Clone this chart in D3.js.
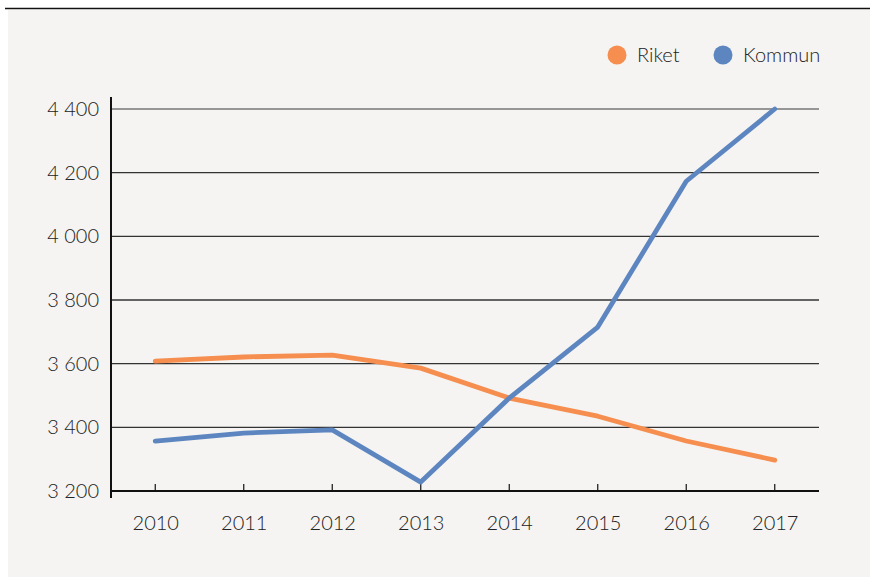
<!DOCTYPE html>
<html>
<head>
<meta charset="utf-8">
<script src="https://cdn.jsdelivr.net/npm/d3@7"></script>
<style>
  html, body { margin: 0; padding: 0; background: #ffffff; }
  svg { display: block; }
  text { font-family: Lato, "Open Sans", sans-serif; font-weight: 300; fill: #222; }
</style>
</head>
<body>
<svg id="chart" width="870" height="577"></svg>
<script>
// Years shown on the x axis
const years = ["2010", "2011", "2012", "2013", "2014", "2015", "2016", "2017"];
// Series values
const riket  = [3608, 3621, 3627, 3586, 3492, 3435, 3357, 3297];
const kommun = [3357, 3382, 3392, 3228, 3492, 3715, 4173, 4400];
// Y tick values
const yTicks = [3200, 3400, 3600, 3800, 4000, 4200, 4400];

const seriesNames = ["Riket", "Kommun"];
const colors = ["#f58e4f", "#5d86c1"];

const svg = d3.select("#chart");

// Panel background and top rule
svg.append("rect").attr("x", 8).attr("y", 10).attr("width", 862).attr("height", 567).attr("fill", "#f5f4f2");
svg.append("line").attr("x1", 5).attr("x2", 870).attr("y1", 8.5).attr("y2", 8.5)
  .attr("stroke", "#111").attr("stroke-width", 1.5);

const plotLeft = 111, plotRight = 819, plotTop = 109, plotBottom = 491;

const x = d3.scalePoint().domain(years).range([plotLeft, plotRight]).padding(0.5);
const y = d3.scaleLinear().domain([3200, 4400]).range([plotBottom, plotTop]);

// Horizontal gridlines
svg.append("g").selectAll("line").data(yTicks.slice(1)).join("line")
  .attr("x1", plotLeft).attr("x2", plotRight)
  .attr("y1", d => y(d)).attr("y2", d => y(d))
  .attr("stroke", d => d === 4400 ? "#777" : "#333").attr("stroke-width", 1.3);

// Y axis
const yAxis = svg.append("g").attr("transform", `translate(${plotLeft},0)`)
  .call(d3.axisLeft(y).tickValues(yTicks).tickSize(0).tickPadding(12)
    .tickFormat(d => d3.format(",")(d).replace(",", " ")));
yAxis.select(".domain").remove();
yAxis.selectAll("text").attr("font-size", 20).attr("fill", "#222")
  .attr("font-family", "Lato, sans-serif").attr("font-weight", 300);
svg.append("line").attr("x1", plotLeft).attr("x2", plotLeft).attr("y1", 97).attr("y2", 498)
  .attr("stroke", "#111").attr("stroke-width", 2);

// X axis
const xAxis = svg.append("g").attr("transform", `translate(0,${plotBottom})`)
  .call(d3.axisBottom(x).tickSize(0).tickPadding(25));
xAxis.select(".domain").remove();
xAxis.selectAll("text").attr("font-size", 20).attr("fill", "#222")
  .attr("font-family", "Lato, sans-serif").attr("font-weight", 300);
svg.append("line").attr("x1", plotLeft).attr("x2", plotRight).attr("y1", plotBottom).attr("y2", plotBottom)
  .attr("stroke", "#111").attr("stroke-width", 2);
svg.append("g").selectAll("line").data(years).join("line")
  .attr("x1", d => x(d)).attr("x2", d => x(d))
  .attr("y1", plotBottom).attr("y2", plotBottom - 7)
  .attr("stroke", "#111").attr("stroke-width", 1.2);

// Lines
const line = d3.line().x((d, i) => x(years[i])).y(d => y(d));
[riket, kommun].forEach((vals, i) => {
  svg.append("path").datum(vals)
    .attr("d", line)
    .attr("fill", "none")
    .attr("stroke", colors[i])
    .attr("stroke-width", 4.8)
    .attr("stroke-linecap", "round")
    .attr("stroke-linejoin", "round");
});

// Legend
const legendX = [617, 723];
seriesNames.forEach((name, i) => {
  const g = svg.append("g").attr("transform", `translate(${legendX[i]},55)`);
  g.append("circle").attr("r", 9.5).attr("fill", colors[i]);
  g.append("text").attr("x", 20).attr("y", 0).attr("dy", "0.35em")
    .attr("font-size", 20).text(name);
});
</script>
</body>
</html>
